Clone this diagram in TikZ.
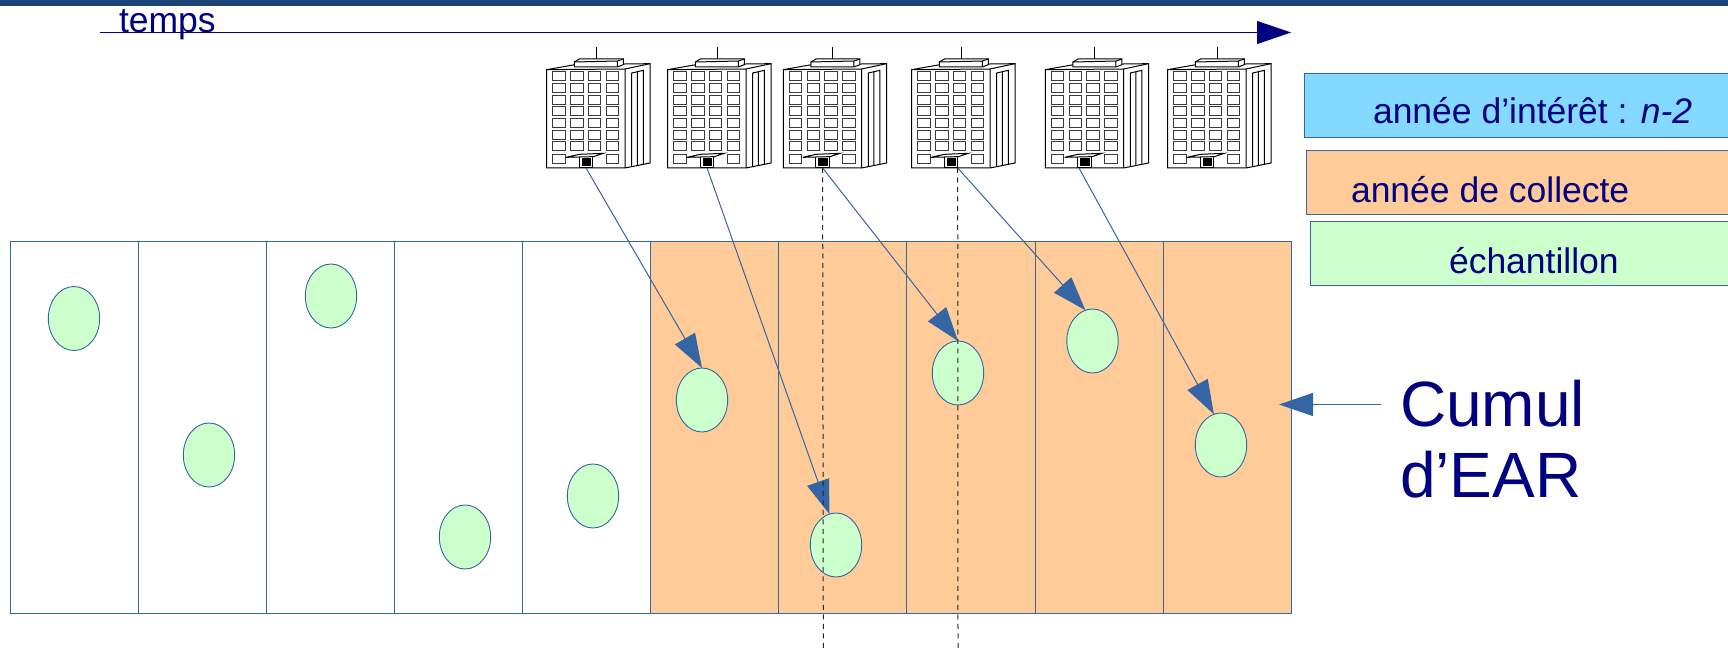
\documentclass[tikz,border=0pt]{standalone}
\usepackage{fontspec}
\setmainfont{Liberation Sans}
\usetikzlibrary{positioning,shapes.geometric,arrows.meta}
\definecolor{bluline}{HTML}{3465A4}
\definecolor{banner}{HTML}{1C4478}
\definecolor{txtnavy}{HTML}{000080}
\definecolor{interet}{HTML}{83D9FF}
\definecolor{collecte}{HTML}{FFCC99}
\definecolor{echant}{HTML}{CCFFCC}
\definecolor{winedge}{HTML}{3A3A3A}
\tikzset{
  cell/.style={draw=bluline,line width=1pt,rectangle,inner sep=0pt,outer sep=0pt,
    minimum width=128.14pt,minimum height=372.7pt},
  sample/.style={draw=bluline,fill=echant,line width=.9pt,ellipse,inner sep=0pt,outer sep=0pt,
    minimum width=51.4pt,minimum height=64pt},
  legendbox/.style={draw=bluline,line width=.8pt,rectangle,anchor=north west,inner sep=0pt,outer sep=0pt,
    minimum height=63.6pt},
  legendtxt/.style={anchor=base west,inner sep=0pt,outer sep=0pt,text=txtnavy,
    font=\fontsize{35.5pt}{40pt}\selectfont},
  link/.style={draw=bluline,line width=1pt,-{Triangle[length=34pt,width=23pt,fill=bluline]}},
  marker/.style={draw=black!85,line width=1pt,dash pattern=on 5pt off 4.5pt},
  pics/building/.style={code={
    \begin{scope}[x=.3333pt,y=-.3333pt,shift={(-50,-50)},draw=black,line width=1pt]
      \draw[fill=white] (50,118) -- (135,103) -- (360,100) -- (360,398) -- (285,413) -- (50,413) -- cycle;
      \draw (50,118) -- (285,116) -- (360,100) (285,116) -- (285,413);
      \draw[fill=white] (133,95) -- (148,86) -- (280,86) -- (280,103) -- (262,110) -- (133,110) -- cycle;
      \draw (133,95) -- (262,92) -- (280,86) (262,92) -- (262,110);
      \draw (198,50) -- (198,86);
      \draw (305,128) -- (340,120) -- (340,402) (322,124) -- (322,406) (305,128) -- (305,410);
      \foreach \wx in {68,122,175,229}
        \foreach \wy in {125,160,195,230,265,300,335}
          \draw[winedge] (\wx,\wy) rectangle ++(37,27);
      \draw[winedge] (68,372) rectangle ++(37,27);
      \draw[winedge] (229,372) rectangle ++(37,27);
      \draw[fill=white] (148,380) rectangle (188,413);
      \fill[black] (155,383) rectangle (183,408);
      \draw[fill=white] (108,381) -- (148,372) -- (220,369) -- (190,379) -- cycle;
      \coordinate (-door) at (168,413);
      \coordinate (-doorl) at (151,413);
      \coordinate (-doorr) at (188,413);
    \end{scope}
  }}
}
\begin{document}
\begin{tikzpicture}[x=1pt,y=-1pt]
  \useasboundingbox (0,0) rectangle (1728,650);
  \fill[banner] (0,0) rectangle (1728,6);

  \node[cell,anchor=north west] (c1) at (10,241) {};
  \node[cell] (c2) [right=0pt of c1] {};
  \node[cell] (c3) [right=0pt of c2] {};
  \node[cell] (c4) [right=0pt of c3] {};
  \node[cell] (c5) [right=0pt of c4] {};
  \node[cell,fill=collecte] (c6) [right=0pt of c5] {};
  \node[cell,fill=collecte] (c7) [right=0pt of c6] {};
  \node[cell,fill=collecte] (c8) [right=0pt of c7] {};
  \node[cell,fill=collecte] (c9) [right=0pt of c8] {};
  \node[cell,fill=collecte] (c10) [right=0pt of c9] {};

  \pic (bd1) at (546.7,47) {building};
  \pic (bd2) at (667.7,47) {building};
  \pic (bd3) at (783.3,47) {building};
  \pic (bd4) at (911.7,47) {building};
  \pic (bd5) at (1045.3,47) {building};
  \pic (bd6) at (1167.7,47) {building};

  \node[sample] (s1) at (74,318.5) {};
  \node[sample] (s2) at (209,455) {};
  \node[sample] (s3) at (331,296) {};
  \node[sample] (s4) at (465,537) {};
  \node[sample] (s5) at (593,496) {};
  \node[sample] (s6) at (702,400) {};
  \node[sample] (s7) at (836,545) {};
  \node[sample] (s8) at (958,373) {};
  \node[sample] (s9) at (1092.5,341) {};
  \node[sample] (s10) at (1221,445) {};

  \coordinate (tstart) at (100,32.5);
  \coordinate (tend) at (1291,32.5);
  \draw[draw=txtnavy,line width=1pt,-{Triangle[length=34pt,width=23pt,fill=txtnavy]}] (tstart) -- (tend);
  \node[legendtxt] (temps) at (119,33) {temps};

  \draw[link] (bd1-door) -- (s6.north);
  \draw[link] (bd2-door) -- (s7.102);
  \draw[link] (bd3-door) -- (s8.north);
  \draw[link] (bd4-doorr) -- (s9.103);
  \draw[link] (bd5-doorl) -- (s10.103);

  \coordinate (m1) at (823.3,650);
  \coordinate (m2) at (958,650);
  \draw[marker] (bd3-door) -- (m1);
  \draw[marker] (bd4-doorr) -- (m2);

  \node[legendbox,fill=interet,minimum width=426pt] (lint) at (1304,73.5) {};
  \node[legendbox,fill=collecte,minimum width=424pt] (lcol) at (1306.3,150.7) {};
  \node[legendbox,fill=echant,minimum width=420pt] (lech) at (1310,221.5) {};
  \node[legendtxt] (tint) at (1373,124) {année d’intérêt : \textit{n-2}};
  \node[legendtxt] (tcol) at (1351,202) {année de collecte};
  \node[legendtxt] (tech) at (1449,273) {échantillon};

  \node[legendtxt,font=\fontsize{64pt}{71pt}\selectfont,align=left] (cumul) at (1400,497.3) {Cumul\\d’EAR};
  \coordinate (cfrom) at (1381,404.5);
  \coordinate (cto) at (1279,404.5);
  \draw[link] (cfrom) -- (cto);
\end{tikzpicture}
\end{document}
